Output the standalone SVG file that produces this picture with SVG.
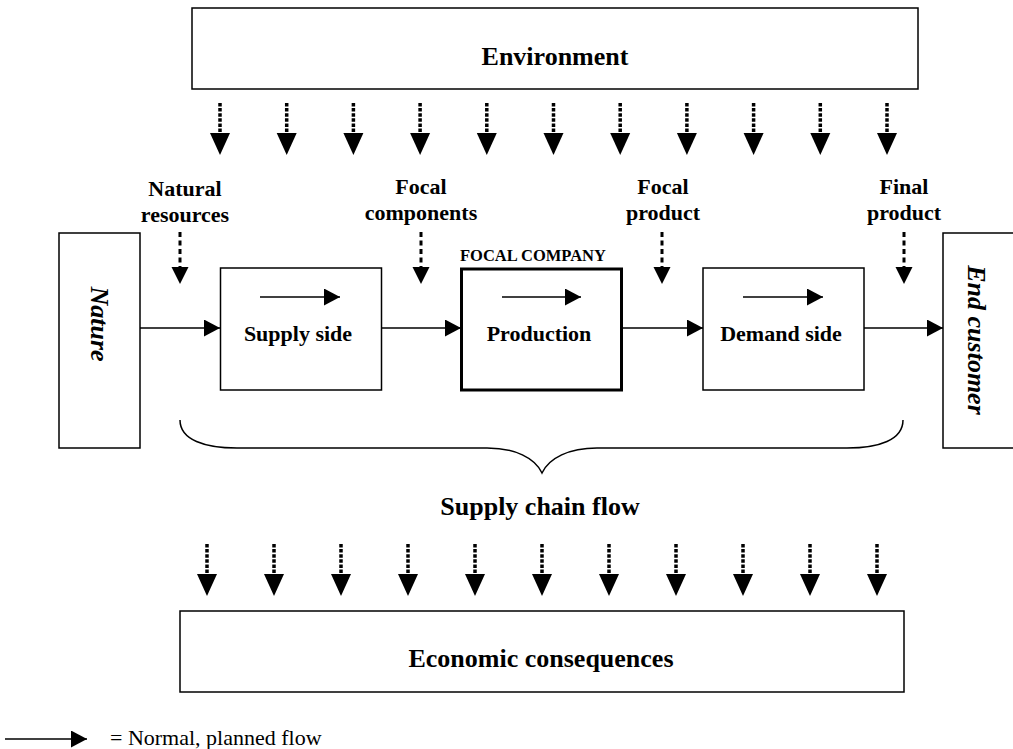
<svg xmlns="http://www.w3.org/2000/svg" width="1013" height="749" viewBox="0 0 1013 749">
<style>
.box{fill:#fff;stroke:#000;stroke-width:1.5}
.thick{fill:#fff;stroke:#000;stroke-width:3}
.t{font-family:"Liberation Serif","Times New Roman",serif;font-weight:bold;fill:#000}
.big{font-size:26px}
.lbl{font-size:22px}
.it{font-style:italic;font-size:26px}
.small{font-size:16.5px}
.reg{font-family:"Liberation Serif","Times New Roman",serif;font-size:22px;fill:#000}
.flow{stroke:#000;stroke-width:1.5;fill:none;marker-end:url(#ah)}
.brace{stroke:#000;stroke-width:1.5;fill:none}
</style>
<defs>
<marker id="ah" markerUnits="userSpaceOnUse" markerWidth="17" markerHeight="18" refX="16" refY="8.5" orient="auto"><path d="M0,0 L16,8.5 L0,17 z" fill="#000"/></marker>
<g id="dot"><line x1="0" y1="0" x2="0" y2="31" stroke="#000" stroke-width="3.5" stroke-dasharray="3.5 1.6"/><path d="M-10,30 L10,30 L0,52 z" fill="#000"/></g>
<g id="dash"><line x1="0" y1="0" x2="0" y2="36" stroke="#000" stroke-width="3" stroke-dasharray="5 3.5"/><path d="M-8.5,35 L8.5,35 L0,52 z" fill="#000"/></g>
</defs>
<rect width="1013" height="749" fill="#fff"/>

<g id="environment"><rect class="box" x="192" y="8" width="726" height="81"/><text class="t big" x="555" y="65" text-anchor="middle">Environment</text></g>
<g id="nature"><rect class="box" x="59" y="233" width="81" height="215"/><text class="t it" transform="translate(100,324) rotate(90)" y="9" text-anchor="middle">Nature</text></g>
<g id="supply-side"><rect class="box" x="220.5" y="268" width="161" height="122"/><text class="t lbl" x="298" y="341" text-anchor="middle">Supply side</text></g>
<g id="production"><rect class="thick" x="461.5" y="269" width="160" height="121"/><text class="t lbl" x="539" y="341" text-anchor="middle">Production</text><text class="t small" x="460" y="261">FOCAL COMPANY</text></g>
<g id="demand-side"><rect class="box" x="703" y="268" width="161" height="122"/><text class="t lbl" x="781" y="341" text-anchor="middle">Demand side</text></g>
<g id="end-customer"><rect class="box" x="943" y="233" width="80" height="215"/><text class="t it" transform="translate(977,340) rotate(90)" y="9" text-anchor="middle">End customer</text></g>
<g id="economic-consequences"><rect class="box" x="180" y="611" width="724" height="81"/><text class="t big" x="541" y="667" text-anchor="middle">Economic consequences</text></g>

<g id="labels">
<text class="t lbl" x="185" y="196" text-anchor="middle">Natural</text>
<text class="t lbl" x="185" y="222" text-anchor="middle">resources</text>
<text class="t lbl" x="421" y="194" text-anchor="middle">Focal</text>
<text class="t lbl" x="421" y="220" text-anchor="middle">components</text>
<text class="t lbl" x="663" y="194" text-anchor="middle">Focal</text>
<text class="t lbl" x="663" y="220" text-anchor="middle">product</text>
<text class="t lbl" x="904" y="194" text-anchor="middle">Final</text>
<text class="t lbl" x="904" y="220" text-anchor="middle">product</text>
<text class="t big" x="540" y="515" text-anchor="middle">Supply chain flow</text>
<text class="reg" x="110" y="745">= Normal, planned flow</text>
</g>

<g id="brace"><path class="brace" d="M180,420 C180,440 205,448 237,448 L487,448 C515,448 535,458 542,473 C549,458 569,448 597,448 L847,448 C879,448 903,440 903,420"/></g>

<g id="connectors">
<line class="flow" x1="140" y1="328" x2="220" y2="328"/>
<line class="flow" x1="381.5" y1="328" x2="461" y2="328"/>
<line class="flow" x1="621.5" y1="328" x2="703" y2="328"/>
<line class="flow" x1="864" y1="328" x2="943" y2="328"/>
<line class="flow" x1="260" y1="297" x2="340" y2="297"/>
<line class="flow" x1="502" y1="297" x2="581" y2="297"/>
<line class="flow" x1="743" y1="297" x2="823" y2="297"/>
<line class="flow" x1="5" y1="739" x2="87" y2="739"/>
<use href="#dash" x="180" y="232"/>
<use href="#dash" x="421" y="232"/>
<use href="#dash" x="662" y="232"/>
<use href="#dash" x="904" y="232"/>
<use href="#dot" x="220" y="103"/>
<use href="#dot" x="286.7" y="103"/>
<use href="#dot" x="353.4" y="103"/>
<use href="#dot" x="420.1" y="103"/>
<use href="#dot" x="486.8" y="103"/>
<use href="#dot" x="553.5" y="103"/>
<use href="#dot" x="620.2" y="103"/>
<use href="#dot" x="686.9" y="103"/>
<use href="#dot" x="753.6" y="103"/>
<use href="#dot" x="820.3" y="103"/>
<use href="#dot" x="887" y="103"/>
<use href="#dot" x="207" y="544"/>
<use href="#dot" x="274" y="544"/>
<use href="#dot" x="341" y="544"/>
<use href="#dot" x="408" y="544"/>
<use href="#dot" x="475" y="544"/>
<use href="#dot" x="542" y="544"/>
<use href="#dot" x="609" y="544"/>
<use href="#dot" x="676" y="544"/>
<use href="#dot" x="743" y="544"/>
<use href="#dot" x="810" y="544"/>
<use href="#dot" x="877" y="544"/>
</g>
</svg>
